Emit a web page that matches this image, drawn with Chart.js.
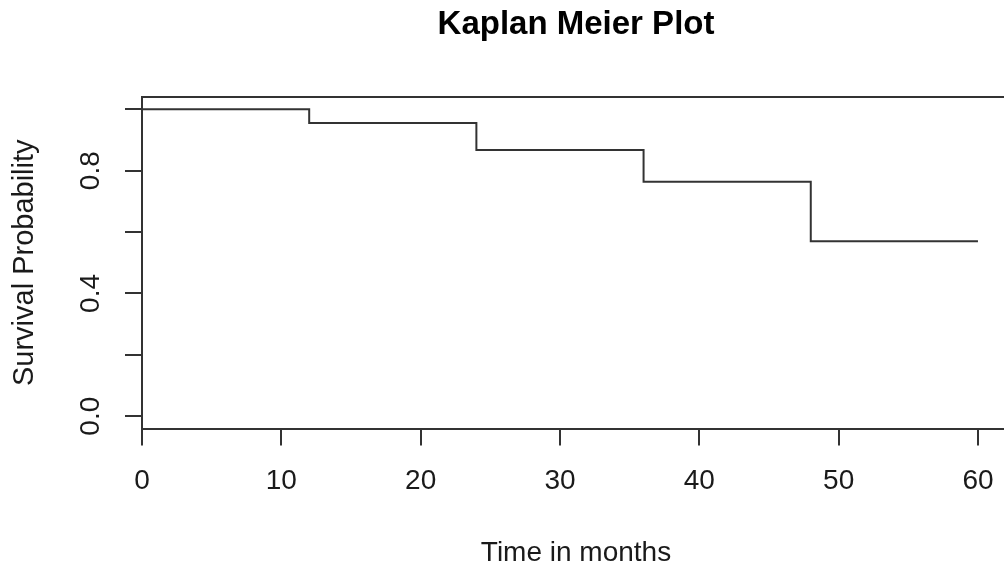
<!DOCTYPE html>
<html>
<head>
<meta charset="utf-8">
<title>Kaplan Meier Plot</title>
<script src="https://cdn.jsdelivr.net/npm/chart.js@4/dist/chart.umd.min.js"></script>
<style>
  html, body { margin: 0; padding: 0; background: #fff; overflow: hidden; }
  #wrap { width: 1004px; height: 571px; overflow: hidden; }
</style>
</head>
<body>
<div id="wrap"><canvas id="kmChart" width="1010" height="571"></canvas></div>
<script>
// survival curve
const months = [0, 12, 24, 36, 48, 60];
const survival = [1.0, 0.955, 0.867, 0.764, 0.570, 0.570];

const xTicks = [0, 10, 20, 30, 40, 50, 60];
const yTicks = [0, 0.2, 0.4, 0.6, 0.8, 1.0];
const yTickLabels = ['0.0', '', '0.4', '', '0.8', ''];

const family = '"Liberation Sans", Arial, sans-serif';
const lineColor = '#333333';
const textColor = '#1a1a1a';

// R draws the box top and rotated y labels, Chart.js doesn't
const rFrame = {
    id: 'rFrame',
    afterDraw(chart) {
        const { ctx, chartArea, scales } = chart;
        ctx.save();
        ctx.strokeStyle = lineColor;
        ctx.lineWidth = 2;
        ctx.beginPath();
        ctx.moveTo(chartArea.left - 1, chartArea.top);
        ctx.lineTo(chartArea.right, chartArea.top);
        ctx.stroke();

        ctx.fillStyle = textColor;
        ctx.font = '28px ' + family;
        ctx.textAlign = 'center';
        ctx.textBaseline = 'middle';
        yTicks.forEach((v, i) => {
            if (!yTickLabels[i]) return;
            const y = scales.y.getPixelForValue(v);
            ctx.save();
            ctx.translate(chartArea.left - 51, y);
            ctx.rotate(-Math.PI / 2);
            ctx.fillText(yTickLabels[i], 0, 0);
            ctx.restore();
        });
        ctx.restore();
    }
};

new Chart(document.getElementById('kmChart'), {
    type: 'line',
    data: {
        datasets: [{
            data: months.map((m, i) => ({ x: m, y: survival[i] })),
            stepped: 'before',
            borderColor: lineColor,
            borderWidth: 2,
            pointRadius: 0,
            fill: false
        }]
    },
    options: {
        responsive: false,
        animation: false,
        devicePixelRatio: 1,
        layout: { padding: 0 },
        plugins: {
            legend: { display: false },
            tooltip: { enabled: false },
            title: {
                display: true,
                text: 'Kaplan Meier Plot',
                fullSize: false,
                color: '#000',
                font: { family: family, size: 33, weight: 'bold', lineHeight: 1.2 },
                padding: { top: 5.2, bottom: 52.2 }
            }
        },
        scales: {
            x: {
                type: 'linear',
                min: 0,
                max: 62.3,
                afterBuildTicks: scale => { scale.ticks = xTicks.map(v => ({ value: v })); },
                afterFit: scale => { scale.paddingLeft = 0; scale.paddingRight = 0; },
                grid: { drawOnChartArea: false, drawTicks: true, tickLength: 17, color: lineColor, lineWidth: 2 },
                border: { display: true, color: lineColor, width: 2 },
                ticks: { color: textColor, font: { family: family, size: 28, lineHeight: 1.2 }, padding: 18.7, maxRotation: 0, autoSkip: false },
                title: {
                    display: true,
                    text: 'Time in months',
                    color: textColor,
                    font: { family: family, size: 28, lineHeight: 1.2 },
                    padding: { top: 19.7, bottom: 1.2 }
                }
            },
            y: {
                type: 'linear',
                min: -0.04,
                max: 1.04,
                afterBuildTicks: scale => { scale.ticks = yTicks.map(v => ({ value: v })); },
                grid: { drawOnChartArea: false, drawTicks: true, tickLength: 17, color: lineColor, lineWidth: 2 },
                border: { display: true, color: lineColor, width: 2 },
                ticks: { display: false },
                title: {
                    display: true,
                    text: 'Survival Probability',
                    color: textColor,
                    font: { family: family, size: 29, lineHeight: 1.2 },
                    padding: { top: 7.6, bottom: 82.6 }
                }
            }
        }
    },
    plugins: [rFrame]
});
</script>
</body>
</html>
